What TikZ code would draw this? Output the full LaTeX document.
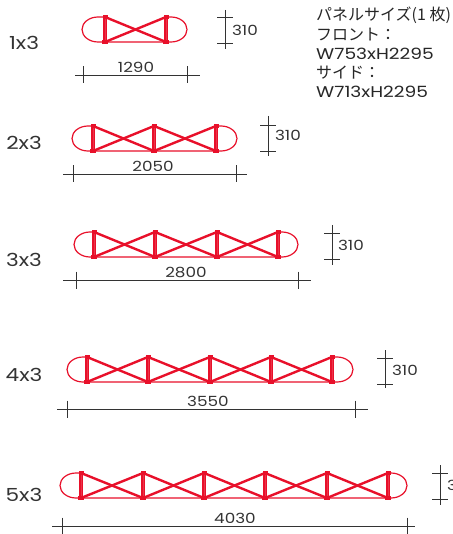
\documentclass[tikz,border=0pt]{standalone}
\usepackage{fontspec}
\setmainfont[FakeStretch=1.2]{Poppins}
\newfontfamily\jp{Noto Sans CJK JP}
\definecolor{trussred}{HTML}{E8102A}
\definecolor{dimgrey}{HTML}{333333}
\usetikzlibrary{calc}
\tikzset{
  thinred/.style={draw=trussred,line width=1.2pt},
  diag/.style={draw=trussred,line width=2.4pt},
  post/.style={draw=trussred,line width=3.2pt},
  postcore/.style={draw=trussred!85!white,line width=1pt},
  joint/.style={fill=trussred},
  dimline/.style={draw=dimgrey,line width=0.9pt},
  dimtext/.style={font=\fontsize{14}{14}\selectfont,text=dimgrey,inner sep=0pt},
  sizelabel/.style={font=\fontsize{18}{18}\selectfont,text=dimgrey,inner sep=0pt},
  notetext/.style={font=\fontsize{15.5}{19.3}\selectfont,text=black!85,inner sep=0pt,align=left,anchor=north west},
}
% #1 row, #2 top y, #3 bottom y, #4 left end, #5 right end, #6 posts
\newcommand\truss[6]{%
  \foreach \px [count=\i] in {#6} {%
    \coordinate (#1t\i) at (\px,#2);
    \coordinate (#1b\i) at (\px,#3);
    \global\let\lastpost\i
  }
  \draw[thinred] (#1t1) -- (#4+16,#2)
     .. controls (#4+7.2,#2) and (#4,#2+5.6) .. (#4,#2+12.5)
     .. controls (#4,#3-5.6) and (#4+7.2,#3) .. (#4+16,#3)
     -- (#5-16,#3)
     .. controls (#5-7.2,#3) and (#5,#3-5.6) .. (#5,#2+12.5)
     .. controls (#5,#2+5.6) and (#5-7.2,#2) .. (#5-16,#2)
     -- (#1t\lastpost);
  \foreach \i in {1,...,\lastpost} {%
    \draw[post] (#1t\i) -- (#1b\i);
    \draw[postcore] (#1t\i) -- (#1b\i);
    \fill[joint] ($(#1t\i)+(-2.5,-2)$) rectangle ($(#1t\i)+(2.5,2)$);
    \fill[joint] ($(#1b\i)+(-3,-2)$) rectangle ($(#1b\i)+(3,2)$);
  }
  \foreach \i [remember=\i as \j (initially 0)] in {1,...,\lastpost} {%
    \ifnum\j>0
      \draw[diag] (#1t\j) -- (#1b\i);
      \draw[diag] (#1b\j) -- (#1t\i);
    \fi
  }
}
% #1 row, #2 y, #3 x0, #4 x1, #5 tick a, #6 tick b, #7 label, #8 label x
\newcommand\hdim[8]{%
  \coordinate (#1ha) at (#3,#2); \coordinate (#1hb) at (#4,#2);
  \coordinate (#1ta) at (#5,#2); \coordinate (#1tb) at (#6,#2);
  \draw[dimline] (#1ha) -- (#1hb);
  \draw[dimline] ($(#1ta)+(0,-8.5)$) -- ($(#1ta)+(0,8.5)$);
  \draw[dimline] ($(#1tb)+(0,-8.5)$) -- ($(#1tb)+(0,8.5)$);
  \node[dimtext] (#1hl) at (#8,#2-8) {#7};
}
% #1 row, #2 x, #3 y0, #4 y1, #5 tick a, #6 tick b, #7 label x, #8 label y
\newcommand\vdim[8]{%
  \coordinate (#1va) at (#2,#3); \coordinate (#1vb) at (#2,#4);
  \coordinate (#1sa) at (#2,#5); \coordinate (#1sb) at (#2,#6);
  \draw[dimline] (#1va) -- (#1vb);
  \draw[dimline] ($(#1sa)+(-8,0)$) -- ($(#1sa)+(8,0)$);
  \draw[dimline] ($(#1sb)+(-8,0)$) -- ($(#1sb)+(8,0)$);
  \node[dimtext] (#1vl) at (#7,#8) {310};
}
\begin{document}
\begin{tikzpicture}[x=1pt,y=-1pt]
\useasboundingbox (0,0) rectangle (452,534);
\clip (0,0) rectangle (452,534);

\node[sizelabel] (l1) at (24,43) {1x3};
\node[sizelabel] (l2) at (24,143) {2x3};
\node[sizelabel] (l3) at (24,260) {3x3};
\node[sizelabel] (l4) at (24,375) {4x3};
\node[sizelabel] (l5) at (24,495) {5x3};

\truss{a}{17}{42}{82}{187}{105,166}
\truss{b}{126}{151}{72}{237}{93,154,216}
\truss{c}{232}{257}{74}{298}{94,155,217,278}
\truss{d}{357}{382}{67}{353}{87,148,210,271,332}
\truss{e}{473}{498}{60}{407}{81,143,204,265,327,388}

\hdim{a}{75}{75}{200}{83}{187}{1290}{136}
\hdim{b}{174}{63}{247}{73}{236}{2050}{153}
\hdim{c}{280}{63}{311}{76}{298}{2800}{186}
\hdim{d}{409}{57}{368}{67}{355}{3550}{208}
\hdim{e}{526}{52}{415}{62}{407}{4030}{235}

\vdim{a}{225}{10}{49}{17}{43}{245}{30}
\vdim{b}{268}{116}{156}{125}{151}{288}{135}
\vdim{c}{332}{225}{265}{233}{259}{351}{245}
\vdim{d}{385}{350}{388}{358}{384}{405}{370}
\vdim{e}{440}{465}{505}{473}{499}{460}{485}

\node[notetext] (note) at (316,7) {{\jp\fontsize{16}{19.3}\selectfont パネルサイズ(1 枚)}\\{\jp\fontsize{16}{19.3}\selectfont フロント：}\\W753xH2295\\{\jp\fontsize{16}{19.3}\selectfont サイド：}\\W713xH2295};
\end{tikzpicture}
\end{document}
